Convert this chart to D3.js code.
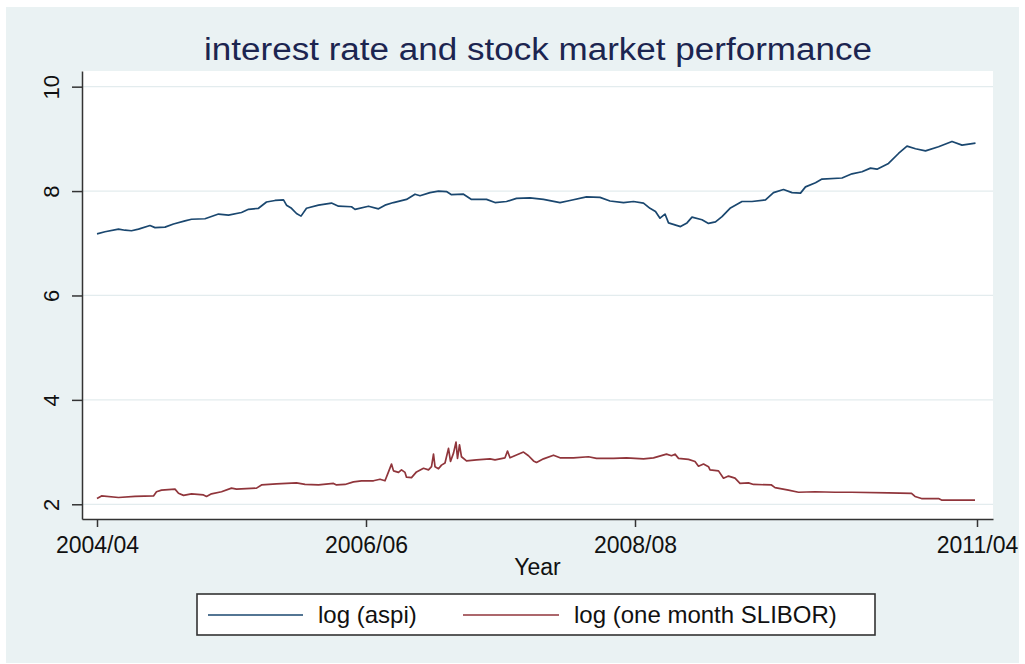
<!DOCTYPE html>
<html>
<head>
<meta charset="utf-8">
<script src="https://cdn.jsdelivr.net/npm/d3@7"></script>
<style>
  html, body { margin: 0; padding: 0; background: #ffffff; }
  svg { display: block; font-family: "Liberation Sans", Arial, sans-serif; }
</style>
</head>
<body>
<svg id="chart" width="1025" height="664"></svg>
<script>
// ---- data ----
const titleText = "interest rate and stock market performance";
const xTitle = "Year";
const seriesNames = ["log (aspi)", "log (one month SLIBOR)"];
const xTickObs = [0, 538, 1076, 1760];
const xTickLabels = ["2004/04", "2006/06", "2008/08", "2011/04"];
const yTicks = [2, 4, 6, 8, 10];

// observation index (trading days since 2004/04) and log(aspi)
const aspiObs = [0,16,43,56,69,83,106,116,136,153,176,189,216,243,263,289,303,323,339,356,373,379,389,399,408,419,443,469,483,509,516,543,563,576,593,619,636,646,666,683,699,709,733,749,779,796,819,839,866,893,926,946,979,1006,1026,1053,1073,1093,1106,1117,1126,1136,1143,1167,1180,1190,1210,1223,1237,1250,1266,1290,1310,1337,1353,1373,1390,1407,1417,1437,1450,1490,1510,1530,1547,1560,1583,1603,1620,1637,1657,1683,1710,1730,1757];
const aspiVal = [7.18,7.22,7.27,7.25,7.24,7.27,7.34,7.30,7.31,7.37,7.43,7.46,7.47,7.56,7.54,7.59,7.65,7.67,7.79,7.82,7.83,7.73,7.67,7.57,7.52,7.67,7.73,7.77,7.71,7.70,7.65,7.71,7.66,7.73,7.78,7.84,7.94,7.91,7.97,8.00,7.99,7.93,7.94,7.84,7.84,7.78,7.80,7.86,7.87,7.84,7.78,7.82,7.89,7.88,7.81,7.78,7.80,7.77,7.67,7.61,7.48,7.56,7.39,7.32,7.39,7.50,7.45,7.38,7.41,7.51,7.67,7.80,7.80,7.83,7.97,8.03,7.97,7.96,8.08,8.16,8.23,8.25,8.33,8.37,8.44,8.42,8.53,8.72,8.86,8.81,8.77,8.85,8.95,8.88,8.92];

// observation index and log(one month SLIBOR)
const sliborObs = [0,9,43,76,113,119,129,156,163,173,189,213,219,229,249,269,279,319,329,359,399,416,443,473,479,496,513,529,553,566,576,583,589,593,603,609,616,619,629,639,653,663,669,673,676,683,689,696,703,707,713,718,721,725,729,739,759,786,796,816,821,826,853,863,873,879,893,913,926,953,983,999,1033,1059,1093,1113,1139,1149,1156,1163,1183,1196,1203,1213,1223,1226,1243,1253,1263,1276,1286,1303,1313,1349,1356,1383,1403,1436,1476,1509,1583,1629,1636,1649,1683,1689,1756];
const sliborVal = [2.11,2.16,2.13,2.15,2.16,2.24,2.27,2.29,2.21,2.17,2.20,2.18,2.15,2.20,2.24,2.31,2.29,2.31,2.37,2.39,2.41,2.38,2.37,2.40,2.37,2.38,2.43,2.45,2.45,2.48,2.45,2.62,2.77,2.64,2.61,2.66,2.61,2.52,2.51,2.62,2.69,2.66,2.72,2.96,2.72,2.68,2.75,2.79,3.07,2.82,2.98,3.19,2.88,3.14,2.91,2.83,2.85,2.87,2.85,2.89,3.02,2.89,3.00,2.93,2.83,2.80,2.87,2.94,2.89,2.89,2.91,2.88,2.88,2.89,2.87,2.89,2.96,2.93,2.96,2.88,2.86,2.82,2.73,2.77,2.72,2.66,2.64,2.50,2.54,2.50,2.40,2.41,2.38,2.37,2.32,2.27,2.23,2.24,2.23,2.23,2.22,2.21,2.15,2.11,2.11,2.08,2.08];

// ---- drawing ----
const colors = ["#1a476f", "#90353b"];
const svg = d3.select("#chart");

// outer graph region
svg.append("rect").attr("x", 6).attr("y", 7).attr("width", 1013).attr("height", 656)
  .attr("fill", "#eaf2f3");

const plot = { left: 82, right: 993, top: 71, bottom: 519 };
svg.append("rect").attr("x", plot.left).attr("y", plot.top)
  .attr("width", plot.right - plot.left).attr("height", plot.bottom - plot.top)
  .attr("fill", "#ffffff");

const x = d3.scaleLinear().domain([-30, 1792]).range([plot.left, plot.right]);
const y = d3.scaleLinear().domain([1.718, 10.30]).range([plot.bottom, plot.top]);

// gridlines
svg.append("g").selectAll("line").data(yTicks).join("line")
  .attr("x1", plot.left).attr("x2", plot.right)
  .attr("y1", d => y(d)).attr("y2", d => y(d))
  .attr("stroke", "#e3ecee").attr("stroke-width", 1.3);

// series lines
const lineGen = d3.line().x(d => x(d[0])).y(d => y(d[1]));
const aspi = d3.zip(aspiObs, aspiVal);
const slibor = d3.zip(sliborObs, sliborVal);
[aspi, slibor].forEach((s, i) => {
  svg.append("path").datum(s).attr("d", lineGen)
    .attr("fill", "none").attr("stroke", colors[i])
    .attr("stroke-width", 1.7).attr("stroke-linejoin", "round");
});

// y axis
const yAxis = svg.append("g").attr("transform", `translate(${plot.left},0)`)
  .call(d3.axisLeft(y).tickValues(yTicks).tickSize(10).tickSizeOuter(0).tickFormat(d3.format("d")));
yAxis.select(".domain").attr("stroke", "#333").attr("stroke-width", 1.5);
yAxis.selectAll(".tick line").attr("stroke", "#333").attr("stroke-width", 1.5);
yAxis.selectAll(".tick text")
  .attr("transform", "rotate(-90)")
  .attr("x", 0).attr("y", -23.5).attr("dy", 0)
  .attr("text-anchor", "middle")
  .attr("fill", "#111")
  .style("font-size", "22px").style("font-family", "Liberation Sans, Arial, sans-serif");

// x axis
const xAxis = svg.append("g").attr("transform", `translate(0,${plot.bottom})`)
  .call(d3.axisBottom(x).tickValues(xTickObs).tickSize(8).tickSizeOuter(0)
    .tickFormat((d, i) => xTickLabels[i]));
xAxis.select(".domain").attr("stroke", "#333").attr("stroke-width", 1.5);
xAxis.selectAll(".tick line").attr("stroke", "#333").attr("stroke-width", 1.5);
xAxis.selectAll(".tick text")
  .attr("y", 34).attr("dy", 0)
  .attr("fill", "#111")
  .style("font-size", "23px").style("font-family", "Liberation Sans, Arial, sans-serif");

// axis title
svg.append("text").attr("x", (plot.left + plot.right) / 2).attr("y", 575)
  .attr("text-anchor", "middle").attr("fill", "#111")
  .style("font-size", "23px").text(xTitle);

// chart title
svg.append("text").attr("x", 538).attr("y", 60)
  .attr("text-anchor", "middle").attr("fill", "#1c2550")
  .attr("textLength", 668).attr("lengthAdjust", "spacingAndGlyphs")
  .style("font-size", "31px").text(titleText);

// legend
const lg = svg.append("g");
lg.append("rect").attr("x", 197).attr("y", 594).attr("width", 678).attr("height", 41)
  .attr("fill", "#ffffff").attr("stroke", "#333").attr("stroke-width", 1.6);
const legendItems = [
  { x0: 208, x1: 303, tx: 318 },
  { x0: 463, x1: 559, tx: 574 }
];
legendItems.forEach((it, i) => {
  lg.append("line").attr("x1", it.x0).attr("x2", it.x1).attr("y1", 615).attr("y2", 615)
    .attr("stroke", colors[i]).attr("stroke-width", 1.6);
  lg.append("text").attr("x", it.tx).attr("y", 623).attr("fill", "#111")
    .style("font-size", "24px").text(seriesNames[i]);
});
</script>
</body>
</html>
